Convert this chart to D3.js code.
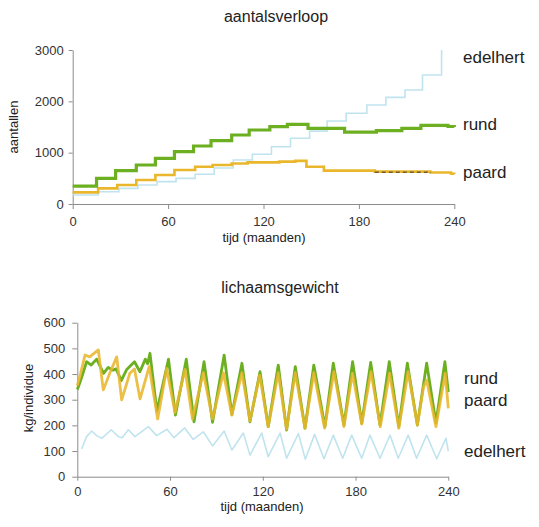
<!DOCTYPE html>
<meta charset="utf-8">
<style>
    body { margin: 0; background: #fff; }
    text { font-family: "Liberation Sans", Arial, sans-serif; fill: #222; }
    .axis path, .axis line { stroke: #8c8c8c; stroke-width: 1; }
    .axis text { font-size: 13px; fill: #333; }
    .title { font-size: 16px; }
    .alabel { font-size: 13px; }
    .legend { font-size: 17px; }
</style>
<body>
<script src="https://cdnjs.cloudflare.com/ajax/libs/d3/7.8.5/d3.min.js"></script>
<script>
// x ticks (months) and y ticks
var maandTicks = [0, 60, 120, 180, 240];
var aantalTicks = [0, 1000, 2000, 3000];
var gewichtTicks = [0, 100, 200, 300, 400, 500, 600];

// aantalsverloop: [maand, aantal], step-after
var rundAantal = [[0,350],[15,500],[27,650],[40,760],[52,890],[64,1020],[76,1130],[87,1233],[100,1344],[111,1442],[124,1506],[135,1553],[148,1475],[171,1400],[191,1430],[207,1475],[219,1530],[236,1510],[240,1500]];
var paardAantal = [[0,227],[16,305],[28,370],[40,467],[52,565],[64,662],[77,727],[88,760],[100,790],[110,810],[130,825],[140,840],[147,727],[158,650],[190,630],[225,615],[238,590],[240,585]];
var edelhertAantal = [[0,175],[16,240],[29,305],[41,370],[53,435],[65,500],[77,580],[89,700],[101,857],[113,970],[125,1116],[137,1280],[149,1420],[160,1617],[172,1767],[185,1929],[197,2078],[209,2221],[220,2513],[232,3000]];

// lichaamsgewicht: [maand, kg]
var rundGewicht = [[0,340],[1,355],[3,390],[6,448],[9,435],[12.5,458],[17,403],[20,426],[23,415],[25,420],[28.5,375],[32,418],[37,448],[40.5,409],[44,458],[45.5,440],[47,481],[51.5,255],[59,458],[63.5,240],[70.5,458],[75.5,214],[82,448],[87.5,212],[95,474],[100,242],[106.5,442],[111.7,214],[118.2,409],[123.5,195],[130,435],[135.4,182],[141,429],[147.3,189],[153,435],[160.2,195],[165.6,442],[172.5,201],[178.1,448],[184,208],[189.8,445],[195.8,201],[201.8,448],[208,195],[213.5,442],[220,201],[226,442],[232,210],[237.8,448],[240,330]];
var paardGewicht = [[0,355],[2,400],[5,474],[8,467],[13.6,494],[16.8,338],[21,403],[25.5,467],[28.7,299],[34,403],[37,420],[40.6,303],[46.5,429],[52,225],[57.8,422],[63.2,250],[69.7,418],[74.5,225],[81.5,405],[87.5,225],[94.5,405],[100,240],[106.5,405],[111.7,218],[118,395],[123.5,195],[130,405],[135.4,185],[141,405],[147.3,189],[153,405],[160,189],[166,409],[172.5,195],[178,403],[184,205],[190,409],[196,195],[202,403],[208,189],[214,409],[220,201],[224,350],[226,377],[232,195],[238,403],[240,266]];
var edelhertGewicht = [[2.8,108],[6,156],[9.3,178],[12.5,160],[16,150],[22,183],[26.6,156],[29,152],[33,183],[37.3,156],[46,195],[51.3,160],[58,185],[62.5,152],[69.5,190],[75,145],[81.5,175],[87.5,120],[95,178],[100,104],[107.4,170],[111.7,84],[119.3,170],[123.5,78],[131.2,170],[135.4,72],[143,168],[147.5,68],[153.5,165],[159.6,70],[165.6,162],[171.7,72],[177.5,162],[184,72],[189.3,162],[195.8,72],[202.3,162],[207.6,72],[214.1,162],[219.5,72],[226,162],[232.5,70],[238.5,150],[240,100]];

var kleur = { rund: "#6cb022", paard: "#e9b62c", edelhert: "#c0e4ee" };

var svg = d3.select("body").append("svg").attr("width", 539).attr("height", 527);

// ---------- top chart ----------
var x1 = d3.scaleLinear().domain([0, 240]).range([72.7, 454.3]);
var y1 = d3.scaleLinear().domain([0, 3000]).range([204, 50]);

svg.append("g").attr("class", "axis").attr("transform", "translate(0,204)")
    .call(d3.axisBottom(x1).tickValues(maandTicks).tickFormat(d3.format("d"))
        .tickSize(5).tickPadding(8).tickSizeOuter(0));
svg.append("g").attr("class", "axis").attr("transform", "translate(72.7,0)")
    .call(d3.axisLeft(y1).tickValues(aantalTicks).tickFormat(d3.format("d"))
        .tickSize(4).tickPadding(5).tickSizeOuter(0));

var stap = d3.line().x(d => x1(d[0])).y(d => y1(d[1])).curve(d3.curveStepAfter);

svg.append("path").attr("d", stap(edelhertAantal)).attr("fill", "none")
    .attr("stroke", kleur.edelhert).attr("stroke-width", 1.6);
svg.append("path").attr("d", stap(paardAantal)).attr("fill", "none")
    .attr("stroke", kleur.paard).attr("stroke-width", 2.6);
svg.append("path").attr("d", stap(paardAantal.filter(d => d[0] >= 190 && d[0] <= 225)))
    .attr("fill", "none").attr("stroke", "#333").attr("stroke-width", 1)
    .attr("stroke-dasharray", "4,3").attr("transform", "translate(0,0.5)");
svg.append("path").attr("d", stap(rundAantal)).attr("fill", "none")
    .attr("stroke", kleur.rund).attr("stroke-width", 3.2);

svg.append("text").attr("class", "title").attr("x", 276).attr("y", 22)
    .attr("text-anchor", "middle").text("aantalsverloop");
svg.append("text").attr("class", "alabel").attr("transform", "translate(18,127) rotate(-90)")
    .attr("text-anchor", "middle").text("aantallen");
svg.append("text").attr("class", "alabel").attr("x", 264).attr("y", 242)
    .attr("text-anchor", "middle").text("tijd (maanden)");

svg.append("text").attr("class", "legend").attr("x", 463).attr("y", 63).text("edelhert");
svg.append("text").attr("class", "legend").attr("x", 463).attr("y", 129.5).text("rund");
svg.append("text").attr("class", "legend").attr("x", 463).attr("y", 177.5).text("paard");

// ---------- bottom chart ----------
var x2 = d3.scaleLinear().domain([0, 240]).range([77.3, 448.3]);
var y2 = d3.scaleLinear().domain([0, 600]).range([476.7, 322.7]);

svg.append("g").attr("class", "axis").attr("transform", "translate(0,476.7)")
    .call(d3.axisBottom(x2).tickValues(maandTicks).tickFormat(d3.format("d"))
        .tickSize(4).tickPadding(6).tickSizeOuter(0));
var ya = svg.append("g").attr("class", "axis").attr("transform", "translate(77.3,0)")
    .call(d3.axisLeft(y2).tickValues(gewichtTicks).tickFormat(d3.format("d"))
        .tickSize(5).tickPadding(7).tickSizeOuter(0));
ya.select(".domain").attr("stroke", "#78982e").attr("stroke-width", 1.6);

var lijn = d3.line().x(d => x2(d[0])).y(d => y2(d[1]));

svg.append("path").attr("d", lijn(edelhertGewicht)).attr("fill", "none")
    .attr("stroke", kleur.edelhert).attr("stroke-width", 1.6).attr("stroke-linejoin", "round");
svg.append("path").attr("d", lijn(rundGewicht)).attr("fill", "none")
    .attr("stroke", kleur.rund).attr("stroke-width", 2.8).attr("stroke-linejoin", "round");
svg.append("path").attr("d", lijn(paardGewicht)).attr("fill", "none")
    .attr("stroke", kleur.paard).attr("stroke-width", 2.8).attr("stroke-linejoin", "round")
    .attr("stroke-opacity", 0.88);

svg.append("text").attr("class", "title").attr("x", 280).attr("y", 293)
    .attr("text-anchor", "middle").text("lichaamsgewicht");
svg.append("text").attr("class", "alabel").attr("transform", "translate(33,398) rotate(-90)")
    .attr("text-anchor", "middle").text("kg/individue");
svg.append("text").attr("class", "alabel").attr("x", 262).attr("y", 511)
    .attr("text-anchor", "middle").text("tijd (maanden)");

svg.append("text").attr("class", "legend").attr("x", 464).attr("y", 383.5).text("rund");
svg.append("text").attr("class", "legend").attr("x", 464).attr("y", 406).text("paard");
svg.append("text").attr("class", "legend").attr("x", 464).attr("y", 456.5).text("edelhert");
</script>
</body>
